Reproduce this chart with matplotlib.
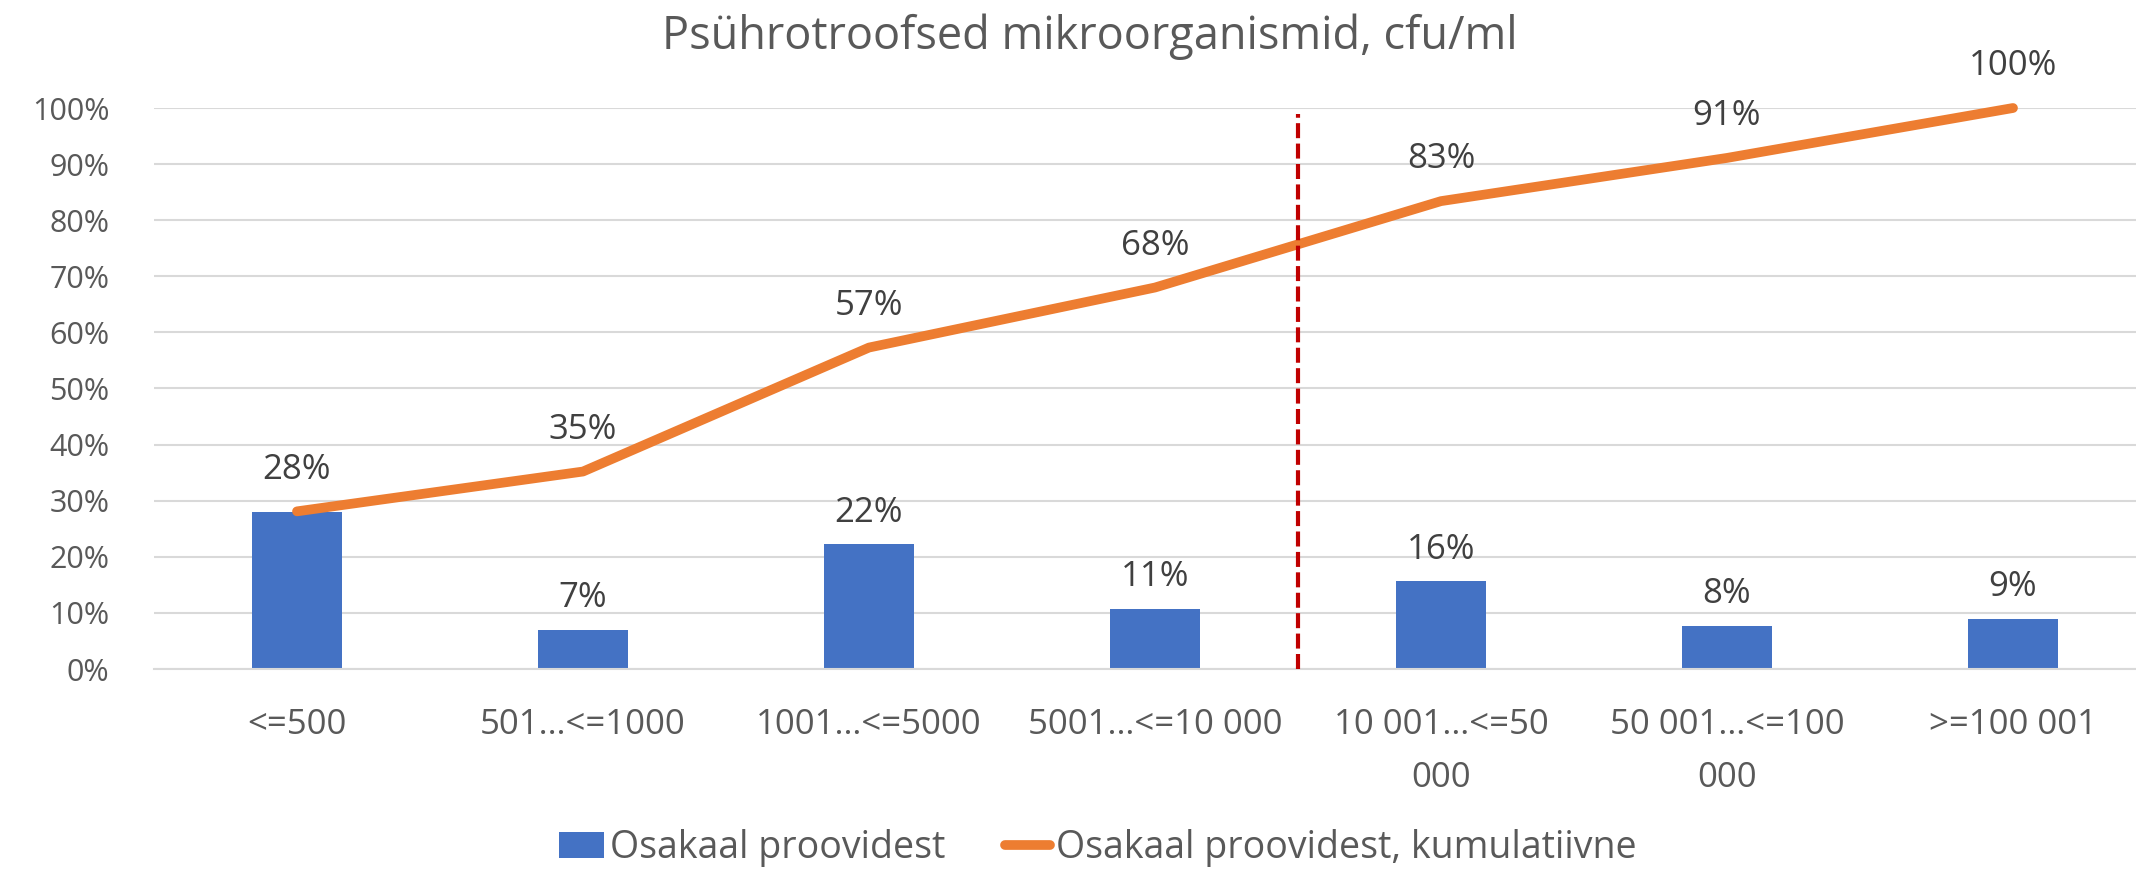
import numpy as np
import matplotlib
matplotlib.use("Agg")
import matplotlib.pyplot as plt

# andmed (loetud pildilt)
categories = ["<=500", "501…<=1000", "1001…<=5000", "5001…<=10 000",
              "10 001…<=50\n000", "50 001…<=100\n000", ">=100 001"]
share = [0.28, 0.069, 0.222, 0.107, 0.156, 0.076, 0.089]        # Osakaal proovidest
share_cum = [0.281, 0.352, 0.573, 0.68, 0.834, 0.911, 1.0]      # kumulatiivne
yticks = [0, 0.1, 0.2, 0.3, 0.4, 0.5, 0.6, 0.7, 0.8, 0.9, 1.0]
split_at = 3.5   # punane katkendjoon

title = "Psührotroofsed mikroorganismid, cfu/ml"
label_bar = "Osakaal proovidest"
label_line = "Osakaal proovidest, kumulatiivne"

plt.rcParams['font.family'] = ['Open Sans', 'DejaVu Sans']

fig = plt.figure(figsize=(21.36, 8.72), dpi=100)
ax = fig.add_axes([154/2136, 1-669/872, 2002/2136, 561/872])

x = np.arange(len(categories))
bars = ax.bar(x, share, width=0.315, color="#4472C4", zorder=2, label=label_bar)
line, = ax.plot(x, share_cum, color="#ED7D31", lw=7, solid_capstyle='round',
                solid_joinstyle='round', zorder=3, clip_on=False, label=label_line)
ax.axvline(split_at, ymin=0, ymax=0.99, color="#C00000", lw=3,
           dashes=(3.6, 1.3), zorder=4)

# andmesildid (esimene tulba silt langeb kokku joone sildiga)
for xi, v, c in zip(x, share, share_cum):
    if abs(v - c) < 0.01:
        continue
    ax.annotate("{:.0f}%".format(v*100), (xi, v), xytext=(0, 23),
                textcoords="offset points", ha="center", va="center",
                fontsize=25, color="#404040")
for xi, v in zip(x, share_cum):
    ax.annotate("{:.0f}%".format(v*100), (xi, v), xytext=(0, 30),
                textcoords="offset points", ha="center", va="center",
                fontsize=25, color="#404040")

ax.set_xlim(-0.5, len(categories)-0.5)
ax.set_ylim(0, 1.0)
ax.set_yticks(yticks)
ax.set_yticklabels(["{:.0f}%".format(t*100) for t in yticks])
ax.set_xticks(x)
ax.set_xticklabels(categories)
for lbl in ax.get_xticklabels():
    lbl.set_linespacing(1.75)
    lbl.set_fontsize(25)

ax.grid(axis="y", color="#D9D9D9", lw=1.5, zorder=0)
for s in ["top", "right", "left"]:
    ax.spines[s].set_visible(False)
ax.spines["bottom"].set_color("#D9D9D9")
ax.spines["bottom"].set_linewidth(1.5)
ax.tick_params(axis="both", length=0, labelcolor="#595959")
ax.tick_params(axis="y", pad=32, labelsize=22)
ax.tick_params(axis="x", pad=28)

fig.text(1090/2136, 1-37/872, title, ha="center", va="center",
         fontsize=32.5, color="#595959")

fig.legend([bars, line], [label_bar, label_line], loc="center",
           bbox_to_anchor=(1098/2136, 24/872), ncol=2,
           frameon=False, fontsize=27, labelcolor="#595959",
           handlelength=1.2, handletextpad=0.15, columnspacing=1.6)

fig.savefig("out.png", dpi=100)
